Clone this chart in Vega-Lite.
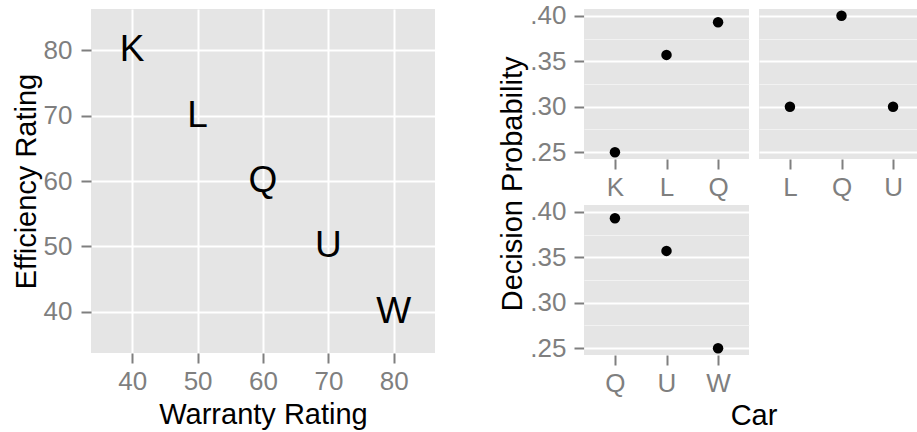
{
  "$schema": "https://vega.github.io/schema/vega-lite/v6.json",
  "padding": {"left": 12, "top": 2, "right": 0, "bottom": 0},
  "background": "white",
  "config": {
    "font": "Liberation Sans",
    "view": {"fill": "#E5E5E5", "stroke": null},
    "axis": {
      "domain": false,
      "gridColor": "white",
      "gridWidth": 2,
      "tickColor": "#7F7F7F",
      "tickWidth": 2,
      "tickSize": 10,
      "labelColor": "#7F7F7F",
      "labelFont": "Liberation Sans",
      "labelFontSize": 26,
      "titleFont": "Liberation Sans",
      "titleFontSize": 29,
      "titleFontWeight": "normal",
      "titleColor": "black",
      "titlePadding": 2
    },
    "axisX": {"labelPadding": 5, "titlePadding": 6},
    "axisY": {"labelPadding": 9}
  },
  "spacing": 63,
  "hconcat": [
    {
      "width": 344,
      "height": 344,
      "data": {"values": [
        {"car": "K", "warranty": 40, "efficiency": 80},
        {"car": "L", "warranty": 50, "efficiency": 70},
        {"car": "Q", "warranty": 60, "efficiency": 60},
        {"car": "U", "warranty": 70, "efficiency": 50},
        {"car": "W", "warranty": 80, "efficiency": 40}
      ]},
      "mark": {"type": "text", "fontSize": 37, "font": "Liberation Sans", "color": "black", "align": "center", "baseline": "middle"},
      "encoding": {
        "x": {"field": "warranty", "type": "quantitative", "title": "Warranty Rating",
              "scale": {"domain": [33.7, 86.3], "nice": false, "zero": false},
              "axis": {"values": [40, 50, 60, 70, 80]}},
        "y": {"field": "efficiency", "type": "quantitative", "title": "Efficiency Rating",
              "scale": {"domain": [33.7, 86.3], "nice": false, "zero": false},
              "axis": {"values": [40, 50, 60, 70, 80]}},
        "text": {"field": "car", "type": "nominal"}
      }
    },
    {
      "title": {"text": "Decision Probability", "orient": "left", "anchor": "middle", "font": "Liberation Sans", "fontSize": 29, "fontWeight": "normal", "color": "black", "offset": 2, "dx": 33},
      "data": {"values": [
        {"panel": 1, "car": "K", "prob": 0.25},
        {"panel": 1, "car": "L", "prob": 0.357},
        {"panel": 1, "car": "Q", "prob": 0.393},
        {"panel": 2, "car": "L", "prob": 0.30},
        {"panel": 2, "car": "Q", "prob": 0.40},
        {"panel": 2, "car": "U", "prob": 0.30},
        {"panel": 3, "car": "Q", "prob": 0.393},
        {"panel": 3, "car": "U", "prob": 0.357},
        {"panel": 3, "car": "W", "prob": 0.25}
      ]},
      "facet": {"field": "panel", "type": "ordinal",
                "header": {"labelExpr": "''", "labelFontSize": 0, "labelPadding": 0, "title": "Car", "titleOrient": "bottom", "titleFont": "Liberation Sans", "titleFontSize": 29, "titleFontWeight": "normal", "titleColor": "black", "titlePadding": 6}},
      "columns": 2,
      "spacing": {"column": 10, "row": 5},
      "resolve": {"scale": {"x": "independent"}},
      "spec": {
        "width": 165,
        "height": 150,
        "mark": {"type": "circle", "size": 110, "color": "black", "opacity": 1},
        "encoding": {
          "x": {"field": "car", "type": "nominal", "title": null,
                "scale": {"type": "point", "padding": 0.6},
                "axis": {"labelAngle": 0}},
          "y": {"field": "prob", "type": "quantitative", "title": null,
                "scale": {"domain": [0.2425, 0.4075], "nice": false, "zero": false},
                "axis": {
                  "labelPadding": 8,
                  "values": [0.25, 0.275, 0.3, 0.325, 0.35, 0.375, 0.4],
                  "labelExpr": "round(datum.value*200) % 10 == 0 ? substring(format(datum.value, '.2f'), 1) : ''",
                  "gridColor": {"condition": {"test": "round(datum.value*200) % 10 == 0", "value": "white"}, "value": "#F2F2F2"},
                  "gridWidth": {"condition": {"test": "round(datum.value*200) % 10 == 0", "value": 2}, "value": 1},
                  "tickSize": {"condition": {"test": "round(datum.value*200) % 10 == 0", "value": 10}, "value": 0}
                }}
        }
      }
    }
  ]
}
